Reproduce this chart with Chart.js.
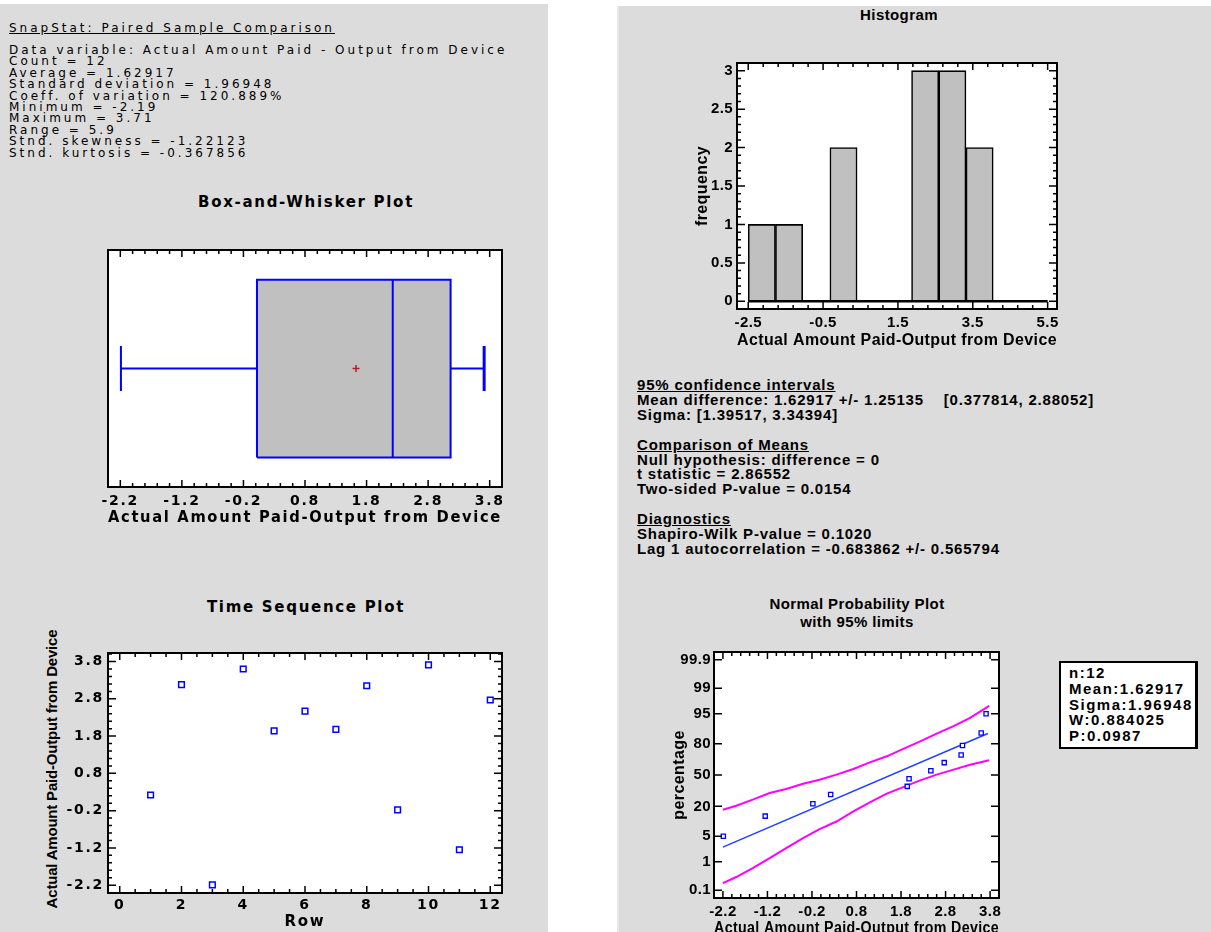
<!DOCTYPE html>
<html>
<head>
<meta charset="utf-8">
<title>SnapStat: Paired Sample Comparison</title>
<script src="https://cdn.jsdelivr.net/npm/chart.js@4.4.1/dist/chart.umd.min.js"></script>
<style>
  body { margin: 0; width: 1211px; height: 932px; overflow: hidden; background: #fff; position: relative;
         font-family: "Liberation Sans", Arial, Helvetica, sans-serif; color: #000; }
  .panel { position: absolute; background: #dcdcdc; }
  #leftPanel { left: 0; top: 4px; width: 548px; height: 928px; }
  #rightPanel { left: 617px; top: 6px; width: 594px; height: 926px; border-left: 2px solid #e8e8e8; }
  .chartBox { position: absolute; }
  .txt { position: absolute; white-space: pre; }
  .u { text-decoration: underline; }
  #summary { left: 9px; top: 45px; font-family: "DejaVu Sans", sans-serif; font-size: 12px; line-height: 11.4px; letter-spacing: 3px; }
  #summaryTitle { left: 9px; top: 21px; font-family: "DejaVu Sans", sans-serif; font-size: 12px; line-height: 14px; letter-spacing: 3px; }
  .ctitle { position: absolute; width: 400px; text-align: center; font-weight: bold; font-size: 15px; line-height: 18px; }
  .lt { font-family: "DejaVu Sans", sans-serif; letter-spacing: 1.7px; }
  .rt { letter-spacing: 0.4px; }
  #intervals { left: 637px; top: 378px; font-weight: bold; font-size: 15px; line-height: 14.9px; letter-spacing: 0.8px; }
  #ylabTime { position: absolute; left: -98px; top: 760px; width: 300px; height: 18px; line-height: 18px;
              text-align: center; font-weight: bold; font-size: 15px; letter-spacing: -0.2px; transform: rotate(-90deg); }
  #legendBox { position: absolute; left: 1059px; top: 661px; width: 126px; height: 82px; background: #fff;
               border: 2px solid #000; border-right-width: 3px; padding: 2px 0 0 8px;
               font-weight: bold; font-size: 15px; line-height: 15.8px; letter-spacing: 1.5px; }
</style>
</head>
<body>
<div class="panel" id="leftPanel"></div>
<div class="panel" id="rightPanel"></div>

<div class="txt u" id="summaryTitle">SnapStat: Paired Sample Comparison</div>
<div class="txt" id="summary">Data variable: Actual Amount Paid - Output from Device
Count = 12
Average = 1.62917
Standard deviation = 1.96948
Coeff. of variation = 120.889%
Minimum = -2.19
Maximum = 3.71
Range = 5.9
Stnd. skewness = -1.22123
Stnd. kurtosis = -0.367856</div>

<div class="txt" id="intervals"><span class="u">95% confidence intervals</span>
Mean difference: 1.62917 +/- 1.25135    [0.377814, 2.88052]
Sigma: [1.39517, 3.34394]

<span class="u">Comparison of Means</span>
Null hypothesis: difference = 0
t statistic = 2.86552
Two-sided P-value = 0.0154

<span class="u">Diagnostics</span>
Shapiro-Wilk P-value = 0.1020
Lag 1 autocorrelation = -0.683862 +/- 0.565794</div>

<div class="ctitle lt" style="left:106px; top:193px;">Box-and-Whisker Plot</div>
<div class="ctitle lt" style="left:106px; top:598px;">Time Sequence Plot</div>
<div class="ctitle rt" style="left:699px; top:6px;">Histogram</div>
<div class="ctitle rt" style="left:657px; top:595px;">Normal Probability Plot<br>with 95% limits</div>
<div id="ylabTime">Actual Amount Paid-Output from Device</div>

<div class="chartBox" id="boxWrap"><canvas id="boxChart"></canvas></div>
<div class="chartBox" id="timeWrap"><canvas id="timeChart"></canvas></div>
<div class="chartBox" id="histWrap"><canvas id="histChart"></canvas></div>
<div class="chartBox" id="probWrap"><canvas id="probChart"></canvas></div>

<div id="legendBox">n:12<br>Mean:1.62917<br>Sigma:1.96948<br>W:0.884025<br>P:0.0987</div>

<script>
// ====================== DATA ======================
const rowNumbers = [1, 2, 3, 4, 5, 6, 7, 8, 9, 10, 11, 12];
const diffValues = [0.22, 3.18, -2.19, 3.60, 1.94, 2.47, 1.98, 3.15, -0.18, 3.71, -1.25, 2.77];

// min, lower quartile, median, upper quartile, max
const boxLabels = ["Minimum", "Lower quartile", "Median", "Upper quartile", "Maximum"];
const boxValues = [-2.19, 0.02, 2.225, 3.165, 3.71];
const boxMean = 1.62917;

const histCounts = [1, 1, 0, 2, 0, 0, 3, 3, 2, 0, 0];
const histLimits = [-2.5, 5.5];

const probValues = [-2.19, -1.25, -0.18, 0.22, 1.94, 1.98, 2.47, 2.77, 3.15, 3.18, 3.60, 3.71];
const probPercents = [5.0, 13.5, 22.0, 30.0, 38.0, 46.0, 54.5, 63.0, 70.5, 78.5, 87.0, 95.0];
const fitX = [-2.2, 3.75];
const fitPercents = [2.65, 86.7];
const limitX = [-2.20, -1.90, -1.53, -1.15, -0.78, -0.40, -0.03, 0.35, 0.73, 1.10, 1.48, 1.85, 2.23, 2.60, 2.98, 3.35, 3.78];
const upperPercents = [17.6, 20.5, 25.4, 31.4, 35.3, 40.8, 45.0, 50.4, 56.4, 63.3, 69.2, 75.8, 81.7, 86.7, 90.5, 93.7, 96.8];
const lowerPercents = [0.185, 0.31, 0.62, 1.28, 2.49, 4.5, 7.3, 10.6, 16.4, 23.1, 30.8, 37.3, 44.3, 50.4, 55.7, 60.9, 65.3];

// tick labels
const diffTicks = [-2.2, -1.2, -0.2, 0.8, 1.8, 2.8, 3.8];
const rowTicks = [0, 2, 4, 6, 8, 10, 12];
const histXTicks = [-2.5, -0.5, 1.5, 3.5, 5.5];
const histYTicks = [0, 0.5, 1, 1.5, 2, 2.5, 3];
const probTickLabels = ["0.1", "1", "5", "20", "50", "80", "95", "99", "99.9"];

// ====================== HELPERS ======================
const FONT = '"Liberation Sans", Arial, Helvetica, sans-serif';
const WIDE = '"DejaVu Sans", sans-serif';
const PAD = 30;
Chart.defaults.color = "#000";
Chart.defaults.font.family = FONT;

// inverse of the standard normal cdf (Acklam)
function invNorm(p) {
    const a = [-3.969683028665376e+01, 2.209460984245205e+02, -2.759285104469687e+02, 1.383577518672690e+02, -3.066479806614716e+01, 2.506628277459239e+00];
    const b = [-5.447609879822406e+01, 1.615858368580409e+02, -1.556989798598866e+02, 6.680131188771972e+01, -1.328068155288572e+01];
    const c = [-7.784894002430293e-03, -3.223964580411365e-01, -2.400758277161838e+00, -2.549671058042534e+00, 4.374664141464968e+00, 2.938163982698783e+00];
    const d = [7.784695709041462e-03, 3.224671290700398e-01, 2.445134137142996e+00, 3.754408661907416e+00];
    const lo = 0.02425, hi = 1 - lo;
    if (p < lo) {
        const q = Math.sqrt(-2 * Math.log(p));
        return (((((c[0] * q + c[1]) * q + c[2]) * q + c[3]) * q + c[4]) * q + c[5]) / ((((d[0] * q + d[1]) * q + d[2]) * q + d[3]) * q + 1);
    }
    if (p > hi) {
        const q = Math.sqrt(-2 * Math.log(1 - p));
        return -(((((c[0] * q + c[1]) * q + c[2]) * q + c[3]) * q + c[4]) * q + c[5]) / ((((d[0] * q + d[1]) * q + d[2]) * q + d[3]) * q + 1);
    }
    const q = p - 0.5, r = q * q;
    return (((((a[0] * r + a[1]) * r + a[2]) * r + a[3]) * r + a[4]) * r + a[5]) * q / (((((b[0] * r + b[1]) * r + b[2]) * r + b[3]) * r + b[4]) * r + 1);
}
const toZ = pct => invNorm(pct / 100);

// position a chart box so that its plot area lands on the given frame
function place(id, frame, yW, xH) {
    const el = document.getElementById(id);
    el.style.left = (frame.l - yW - PAD) + "px";
    el.style.top = (frame.t - PAD) + "px";
    el.style.width = (frame.r - frame.l + yW + 2 * PAD) + "px";
    el.style.height = (frame.b - frame.t + xH + 2 * PAD) + "px";
    return el.querySelector("canvas").getContext("2d");
}

const fixedTicks = values => scale => { scale.ticks = values.map(v => ({ value: v })); };

// white plot area, black frame, inward major/minor ticks on every side
const statFrame = {
    id: "statFrame",
    beforeDraw(chart) {
        const { ctx, chartArea: a } = chart;
        ctx.save();
        ctx.fillStyle = "#fff";
        ctx.fillRect(a.left, a.top, a.width, a.height);
        ctx.restore();
    },
    afterDatasetsDraw(chart, args, opts) {
        if (!opts || !opts.on) return;
        const { ctx, chartArea: a, scales } = chart;
        const marks = (scale, step) => {
            const major = scale.ticks.map(t => t.value);
            const minor = [];
            if (step) {
                const k0 = Math.ceil((scale.min - major[0]) / step - 1e-6);
                const k1 = Math.floor((scale.max - major[0]) / step + 1e-6);
                for (let k = k0; k <= k1; k++) minor.push(major[0] + k * step);
            }
            return { major, minor };
        };
        ctx.save();
        ctx.strokeStyle = "#000";
        ctx.lineWidth = 1.5;
        ctx.beginPath();
        if (opts.x !== false) {
            const { major, minor } = marks(scales.x, opts.xMinor);
            const put = (v, len) => {
                const p = scales.x.getPixelForValue(v);
                ctx.moveTo(p, a.bottom); ctx.lineTo(p, a.bottom - len);
                ctx.moveTo(p, a.top); ctx.lineTo(p, a.top + len);
            };
            minor.forEach(v => put(v, 4));
            major.forEach(v => put(v, 7));
        }
        if (opts.y) {
            const { major, minor } = marks(scales.y, opts.yMinor);
            const put = (v, len) => {
                const p = scales.y.getPixelForValue(v);
                ctx.moveTo(a.left, p); ctx.lineTo(a.left + len, p);
                ctx.moveTo(a.right, p); ctx.lineTo(a.right - len, p);
            };
            minor.forEach(v => put(v, 4));
            major.forEach(v => put(v, 8));
        }
        ctx.stroke();
        ctx.lineWidth = 2;
        ctx.strokeRect(a.left, a.top, a.width, a.height);
        ctx.restore();
    }
};

// the old SnapStat output is drawn with wide letter spacing
const letterSpacing = {
    id: "letterSpacing",
    beforeUpdate(chart, args, opts) { chart.ctx.letterSpacing = (opts && opts.value) || "0px"; },
    beforeDraw(chart, args, opts) { chart.ctx.letterSpacing = (opts && opts.value) || "0px"; }
};
Chart.register(statFrame, letterSpacing);

function axis(o) {
    return {
        type: "linear",
        min: o.min, max: o.max,
        afterBuildTicks: fixedTicks(o.ticks),
        afterFit: s => { if (o.w !== undefined) s.width = o.w; if (o.h !== undefined) s.height = o.h; },
        grid: { display: false, drawTicks: false },
        border: { display: false },
        ticks: { autoSkip: false, maxRotation: 0, padding: o.pad, color: "#000",
                 font: o.font, callback: o.fmt },
        title: { display: !!o.title, text: o.title, color: "#000", font: o.titleFont, padding: 0 }
    };
}

const baseOptions = extra => Object.assign({
    animation: false,
    responsive: true,
    maintainAspectRatio: false,
    layout: { padding: PAD },
    events: []
}, extra);

const leftTick = { family: WIDE, size: 14, weight: "bold" };
const leftTitle = { family: WIDE, size: 15, weight: "bold" };
const rightTick = { family: FONT, size: 15, weight: "bold" };
const rightTitle = { family: FONT, size: 16, weight: "bold" };
const fmt1 = v => Number(v).toFixed(1);

// ====================== BOX-AND-WHISKER ======================
const boxFrame = { l: 108, t: 250, r: 502, b: 487 };
const [bMin, bQ1, bMed, bQ3, bMax] = boxValues;
const BOX_LO = 0.125, BOX_HI = 0.875, CAP_LO = 0.405, CAP_HI = 0.595, MID = 0.5;
const seg = (x1, y1, x2, y2) => [{ x: x1, y: y1 }, { x: x2, y: y2 }];
const blueLine = (data, width) => ({ type: "line", data, borderColor: "#0000ff", borderWidth: width || 2,
                                     pointRadius: 0, fill: false });

new Chart(place("boxWrap", boxFrame, 0, 40), {
    type: "line",
    data: {
        datasets: [
            { type: "line", data: [{ x: boxMean, y: MID }], showLine: false, pointStyle: "cross",
              pointRadius: 3.5, pointBorderWidth: 1.5, borderColor: "#b02020" },
            blueLine(seg(bMed, BOX_LO, bMed, BOX_HI)),
            blueLine([{ x: bQ1, y: BOX_LO }, { x: bQ3, y: BOX_LO }, { x: bQ3, y: BOX_HI },
                      { x: bQ1, y: BOX_HI }, { x: bQ1, y: BOX_LO }]),
            blueLine(seg(bMin, MID, bQ1, MID)),
            blueLine(seg(bQ3, MID, bMax, MID)),
            blueLine(seg(bMin, CAP_LO, bMin, CAP_HI)),
            blueLine(seg(bMax, CAP_LO, bMax, CAP_HI), 3),
            { type: "line", data: seg(bQ1, BOX_HI, bQ3, BOX_HI), borderWidth: 0, pointRadius: 0,
              fill: { value: BOX_LO }, backgroundColor: "#c0c0c0" }
        ]
    },
    options: baseOptions({
        plugins: { legend: { display: false }, tooltip: { enabled: false },
                   statFrame: { on: true, xMinor: 0.2, y: false }, letterSpacing: { value: "1.7px" } },
        scales: {
            x: axis({ min: -2.4, max: 4.0, ticks: diffTicks, h: 40, pad: 6, font: leftTick, fmt: fmt1,
                      title: "Actual Amount Paid-Output from Device", titleFont: leftTitle }),
            y: { type: "linear", min: 0, max: 1, display: false }
        }
    })
});

// ====================== TIME SEQUENCE ======================
const timeFrame = { l: 108, t: 653, r: 502, b: 893 };
new Chart(place("timeWrap", timeFrame, 65, 38), {
    type: "scatter",
    data: {
        datasets: [{
            data: rowNumbers.map((r, i) => ({ x: r, y: diffValues[i] })),
            pointStyle: "rect", pointRadius: 4, pointBorderWidth: 1.5,
            borderColor: "#0000ff", backgroundColor: "#fff"
        }]
    },
    options: baseOptions({
        plugins: { legend: { display: false }, tooltip: { enabled: false },
                   statFrame: { on: true, xMinor: 0.5, y: true, yMinor: 0.2 }, letterSpacing: { value: "1.7px" } },
        scales: {
            x: axis({ min: -0.38, max: 12.38, ticks: rowTicks, h: 38, pad: 4, font: leftTick,
                      fmt: v => String(v), title: "Row", titleFont: leftTitle }),
            y: axis({ min: -2.41, max: 4.03, ticks: diffTicks, w: 65, pad: 4, font: leftTick, fmt: fmt1 })
        }
    })
});

// ====================== HISTOGRAM ======================
const histFrame = { l: 737, t: 63, r: 1057, b: 309 };
const binWidth = (histLimits[1] - histLimits[0]) / histCounts.length;
new Chart(place("histWrap", histFrame, 44, 41), {
    type: "bar",
    data: {
        datasets: [
            { type: "line", data: seg(histLimits[0], 0, histLimits[1], 0), borderColor: "#000",
              borderWidth: 2.5, pointRadius: 0 },
            { type: "bar", data: histCounts.map((c, i) => ({ x: histLimits[0] + (i + 0.5) * binWidth, y: c })),
              backgroundColor: "#c0c0c0", borderColor: "#000", borderWidth: 1.6, borderSkipped: false,
              barPercentage: 1, categoryPercentage: 1, grouped: false }
        ]
    },
    options: baseOptions({
        plugins: { legend: { display: false }, tooltip: { enabled: false },
                   statFrame: { on: true, xMinor: 0.4, y: true, yMinor: 0.1 }, letterSpacing: { value: "0.4px" } },
        scales: {
            x: Object.assign(axis({ min: -2.8, max: 5.75, ticks: histXTicks, h: 41, pad: 5, font: rightTick,
                                    fmt: fmt1, title: "Actual Amount Paid-Output from Device", titleFont: rightTitle }),
                             { offset: false }),
            y: axis({ min: -0.1, max: 3.1, ticks: histYTicks, w: 44, pad: 4, font: rightTick,
                      fmt: v => String(v), title: "frequency", titleFont: rightTitle })
        }
    })
});

// ====================== NORMAL PROBABILITY ======================
const probFrame = { l: 714, t: 652, r: 999, b: 898 };
const zPoints = (xs, ps) => xs.map((x, i) => ({ x, y: toZ(ps[i]) }));
new Chart(place("probWrap", probFrame, 44, 40), {
    type: "scatter",
    data: {
        datasets: [
            { data: zPoints(probValues, probPercents), showLine: false, pointStyle: "rect", pointRadius: 3,
              pointBorderWidth: 1.3, borderColor: "#0000ff", backgroundColor: "#fff" },
            { data: zPoints(fitX, fitPercents), showLine: true, borderColor: "#2040ff", borderWidth: 1.5, pointRadius: 0 },
            { data: zPoints(limitX, upperPercents), showLine: true, borderColor: "#ff00ff", borderWidth: 2, pointRadius: 0 },
            { data: zPoints(limitX, lowerPercents), showLine: true, borderColor: "#ff00ff", borderWidth: 2, pointRadius: 0 }
        ]
    },
    options: baseOptions({
        plugins: { legend: { display: false }, tooltip: { enabled: false },
                   statFrame: { on: true, xMinor: 0.2, y: true, yMinor: 0 }, letterSpacing: { value: "0.4px" } },
        scales: {
            x: axis({ min: -2.4, max: 4.0, ticks: diffTicks, h: 40, pad: 5, font: rightTick, fmt: fmt1,
                      title: "Actual Amount Paid-Output from Device", titleFont: rightTitle }),
            y: axis({ min: -3.3, max: 3.3, ticks: probTickLabels.map(t => toZ(parseFloat(t))), w: 44, pad: 3,
                      font: rightTick, fmt: (v, i) => probTickLabels[i], title: "percentage", titleFont: rightTitle })
        }
    })
});
</script>
</body>
</html>
